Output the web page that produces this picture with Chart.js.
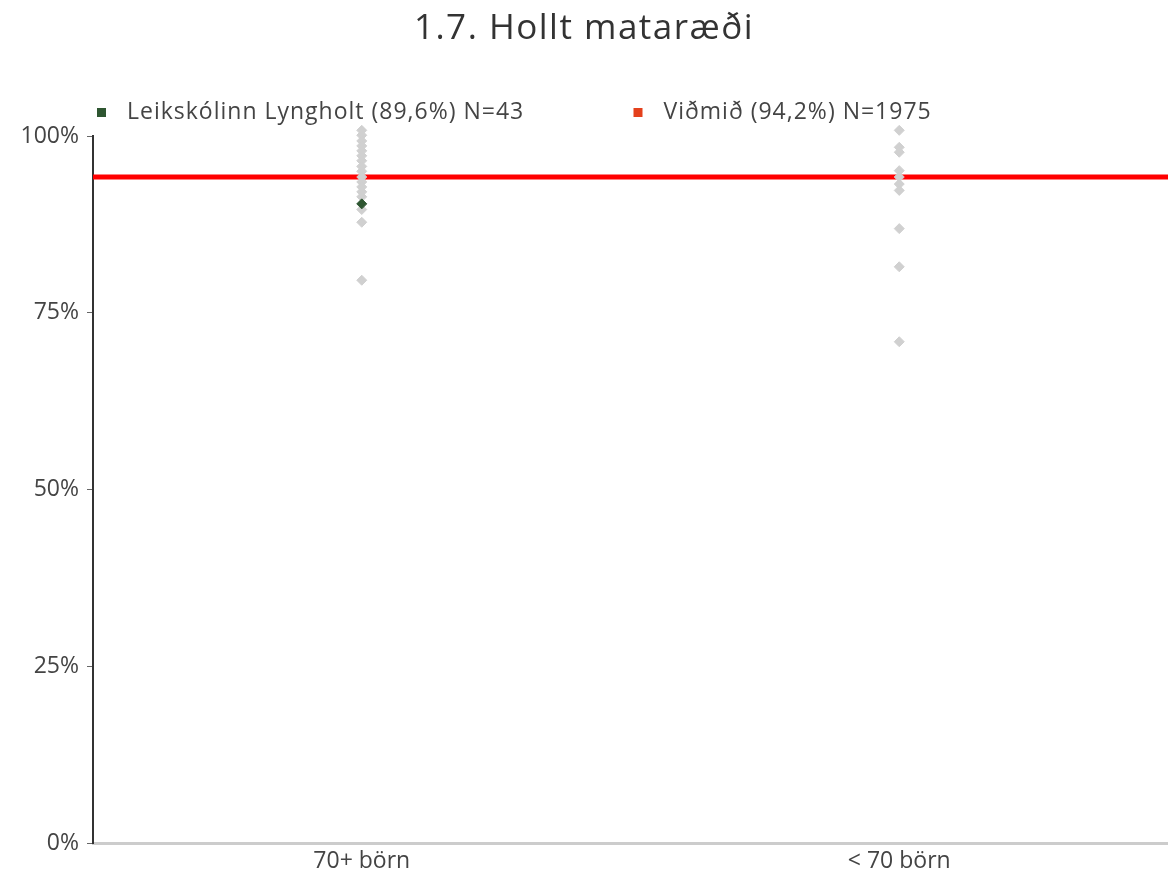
<!DOCTYPE html>
<html lang="is">
<head>
    <meta charset="UTF-8">
    <title>1.7. Hollt mataræði</title>
    <script src="https://cdn.jsdelivr.net/npm/chart.js"></script>
    <style>
        html, body { margin: 0; padding: 0; background: #fff; }
        #wrap { width: 1168px; height: 877px; }
    </style>
</head>
<body>
    <div id="wrap"><canvas id="myChart"></canvas></div>
    <script>
        // flokkar á x-ás
        const categories = ['70+ börn', '< 70 börn'];
        // aðrir leikskólar (gráir punktar), % eftir flokki
        const bigSchools = [100.8, 100.1, 99.3, 98.6, 97.9, 97.2, 96.5, 95.7, 95.0, 94.2, 93.5, 92.8, 92.1, 91.4, 89.6, 87.8, 79.6];
        const smallSchools = [100.8, 98.4, 97.7, 95.1, 94.2, 93.2, 92.3, 86.9, 81.5, 70.9];
        // leikskólinn sjálfur
        const ownCategory = 0;
        const ownValue = 90.4;
        // viðmið
        const benchmark = 94.2;
        const yTicks = [0, 25, 50, 75, 100];

        const chartTitle = '1.7. Hollt mataræði';
        const legendLabels = ['Leikskólinn Lyngholt (89,6%) N=43', 'Viðmið (94,2%) N=1975'];
        const legendColors = ['#2e5631', '#e4401c'];

        const FONT = '"Open Sans", "Noto Sans", sans-serif';

        // titill og skýringar fyrir ofan grafið (breiðara letur, því letterSpacing)
        const topLegend = {
            id: 'topLegend',
            beforeInit(chart) {
                chart.ctx.letterSpacing = '1px';
            },
            afterDraw(chart) {
                const ctx = chart.ctx;
                const area = chart.chartArea;
                ctx.save();
                // titill
                ctx.letterSpacing = '1.5px';
                ctx.font = '35px ' + FONT;
                ctx.fillStyle = '#333';
                ctx.textAlign = 'center';
                ctx.textBaseline = 'middle';
                ctx.fillText(chartTitle, chart.width / 2, 29);
                // skýringar
                ctx.letterSpacing = '1px';
                ctx.font = '23px ' + FONT;
                ctx.textAlign = 'left';
                const xs = [area.left + 4, (area.left + area.right) / 2 + 3];
                const y = area.top - 24;
                legendLabels.forEach((txt, i) => {
                    ctx.fillStyle = legendColors[i];
                    ctx.fillRect(xs[i], y - 4, 9, 9);
                    ctx.fillStyle = '#444';
                    ctx.fillText(txt, xs[i] + 30, y);
                });
                ctx.restore();
            }
        };

        const toPoints = (vals, idx) => vals.map(v => ({ x: idx + 0.5, y: v }));

        const ctx = document.getElementById('myChart').getContext('2d');
        const myChart = new Chart(ctx, {
            data: {
                datasets: [
                    {
                        type: 'scatter',
                        label: legendLabels[0],
                        data: [{ x: ownCategory + 0.5, y: ownValue }],
                        pointStyle: 'rectRot',
                        pointRadius: 5,
                        backgroundColor: legendColors[0],
                        borderColor: legendColors[0],
                        borderWidth: 1,
                        clip: false,
                        order: 1
                    },
                    {
                        type: 'scatter',
                        label: 'Aðrir',
                        data: toPoints(bigSchools, 0).concat(toPoints(smallSchools, 1)),
                        pointStyle: 'rectRot',
                        pointRadius: 5,
                        backgroundColor: '#d0d0d0',
                        borderColor: '#d0d0d0',
                        borderWidth: 1,
                        clip: false,
                        order: 2
                    },
                    {
                        type: 'line',
                        label: legendLabels[1],
                        data: [{ x: 0, y: benchmark }, { x: categories.length, y: benchmark }],
                        borderColor: '#ff0000',
                        borderWidth: 5,
                        pointRadius: 0,
                        clip: false,
                        order: 3
                    }
                ]
            },
            options: {
                responsive: true,
                maintainAspectRatio: false,
                animation: false,
                layout: { autoPadding: false, padding: { left: 0, right: 0, top: 136, bottom: 0 } },
                plugins: {
                    legend: { display: false },
                    tooltip: { enabled: false },
                    title: { display: false }
                },
                scales: {
                    x: {
                        type: 'linear',
                        min: 0,
                        max: categories.length,
                        afterBuildTicks: (scale) => {
                            scale.ticks = categories.map((c, i) => ({ value: i + 0.5 }));
                        },
                        afterFit: (scale) => {
                            scale.height = 34;
                        },
                        grid: { display: false, drawTicks: false },
                        border: { display: true, color: '#cccccc', width: 3 },
                        ticks: {
                            color: '#444',
                            font: { family: FONT, size: 23 },
                            padding: 5,
                            callback: (value) => categories[Math.floor(value)]
                        }
                    },
                    y: {
                        min: 0,
                        max: 100,
                        afterBuildTicks: (scale) => {
                            scale.ticks = yTicks.map(v => ({ value: v }));
                        },
                        afterFit: (scale) => {
                            scale.width = 93;
                        },
                        grid: { drawOnChartArea: false, drawTicks: true, tickLength: 6, color: '#666', lineWidth: 1 },
                        border: { display: true, color: '#333', width: 2 },
                        ticks: {
                            color: '#444',
                            font: { family: FONT, size: 23 },
                            padding: 8,
                            callback: (value) => value + '%'
                        }
                    }
                }
            },
            plugins: [topLegend]
        });
    </script>
</body>
</html>
